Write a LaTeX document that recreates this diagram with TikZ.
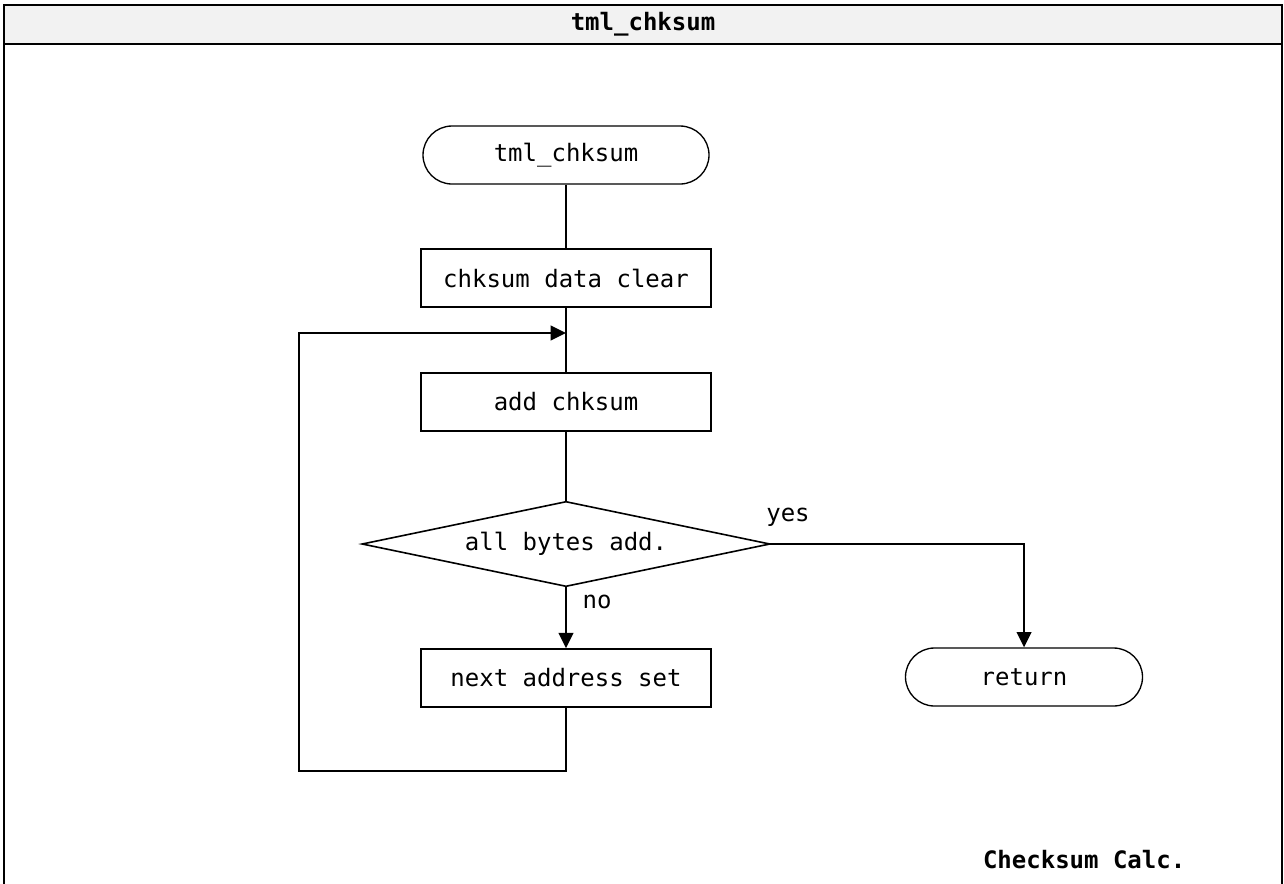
\documentclass[tikz,border=0pt]{standalone}
\usepackage{fontspec}
\setmainfont{DejaVu Sans Mono}
\usetikzlibrary{arrows.meta}

\begin{document}
\begin{tikzpicture}[x=0.75pt,y=-0.75pt,
    every node/.style={font=\fontsize{18}{21}\selectfont},
    term/.style={draw,line width=1pt,rounded corners=21.75pt,minimum height=43.5pt,inner sep=0pt},
    proc/.style={draw,line width=1.2pt,minimum width=217.5pt,minimum height=43.5pt,inner sep=0pt},
    test/.style={minimum width=305.25pt,minimum height=63pt,inner sep=0pt},
    flow/.style={line width=1.2pt},
    arr/.style={line width=1.5pt,-{Triangle[length=11.5pt,width=11pt]}}]

\useasboundingbox (0,0) rectangle (1284,883);

% Draw the frame and the title bar
\filldraw[draw=black,fill=black!5,line width=2pt] (4,5) rectangle (1282,44);
\draw[line width=2pt] (4,44) -- (4,890);
\draw[line width=2pt] (1282,44) -- (1282,890);
\node[font=\fontsize{18}{21}\selectfont\bfseries] (title) at (643,24) {tml\_chksum};

% Draw all the boxes
\node[term,minimum width=214.5pt] (start) at (566,155) {tml\_chksum};
\node[proc] (clear) at (566,278) {chksum data clear};
\node[proc] (add) at (566,402) {add chksum};
\node[test] (check) at (566,544) {all bytes add.};
\draw[line width=1.2pt] (check.north) -- (check.east) -- (check.south) -- (check.west) -- cycle;
\node[proc] (next) at (566,678) {next address set};
\node[term,minimum width=177.75pt] (ret) at (1024,677) {return};

% Draw the labels
\node (yes) at (788,517) {yes};
\node (no) at (597,602) {no};
\node[anchor=east,font=\fontsize{18}{21}\selectfont\bfseries] (calc) at (1190,860) {Checksum Calc.};

% Draw the arrows
\coordinate (join) at (566,333);
\coordinate (loop) at (299,771);
\draw[flow] (start) -- (clear);
\draw[flow] (clear) -- (add);
\draw[flow] (add) -- (check);
\draw[arr] (check.south) -- (next.north);
\draw[arr] (check.east) -| (ret.north);
\draw[arr] (next.south) |- (loop) |- (join);

\end{tikzpicture}
\end{document}
